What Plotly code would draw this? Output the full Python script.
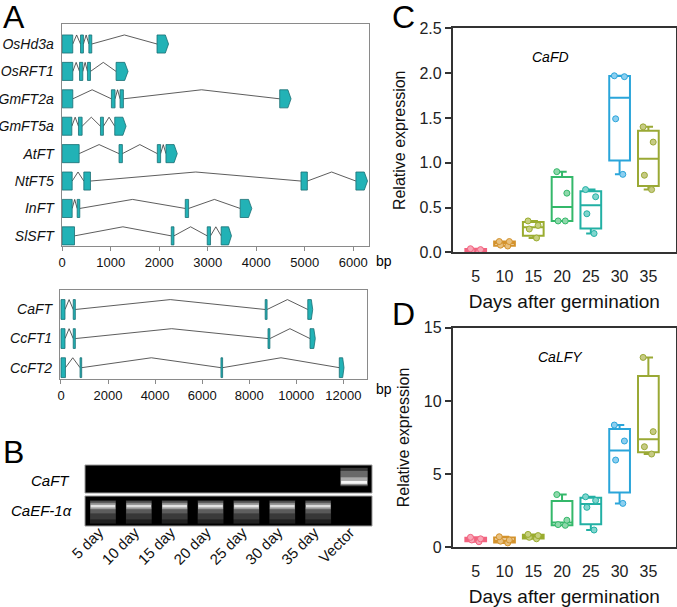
import plotly.graph_objects as go

W, H = 677, 607
FONT = "Arial, Liberation Sans, sans-serif"

# ---- panel A: gene structures (exon start/end in bp) ----
genes_top = ["OsHd3a", "OsRFT1", "GmFT2a", "GmFT5a", "AtFT", "NtFT5", "InFT", "SlSFT"]
exons_top = [
    [(0, 218), (378, 438), (550, 610), (1955, 2193)],
    [(0, 219), (357, 425), (521, 583), (1111, 1358)],
    [(0, 219), (1015, 1090), (1193, 1262), (4484, 4718)],
    [(0, 199), (336, 411), (789, 850), (1083, 1317)],
    [(0, 350), (1172, 1241), (1961, 2029), (2139, 2372)],
    [(0, 206), (446, 583), (4923, 5054), (6055, 6295)],
    [(0, 206), (309, 363), (2537, 2606), (3669, 3909)],
    [(0, 254), (2249, 2304), (2990, 3058), (3277, 3490)],
]
ticks_top = [0, 1000, 2000, 3000, 4000, 5000, 6000]

genes_bottom = ["CaFT", "CcFT1", "CcFT2"]
exons_bottom = [
    [(0, 170), (520, 610), (8680, 8760), (10490, 10700)],
    [(0, 170), (520, 610), (8800, 8880), (10585, 10810)],
    [(0, 190), (810, 880), (6800, 6870), (11830, 12030)],
]
ticks_bottom = [0, 2000, 4000, 6000, 8000, 10000, 12000]

# ---- panel B: gel lanes and band intensities ----
lanes = ["5 day", "10 day", "15 day", "20 day", "25 day", "30 day", "35 day", "Vector"]
caft_band = [0, 0, 0, 0, 0, 0, 0, 1.0]
ef1a_band = [0.95, 0.85, 0.95, 0.95, 1.0, 0.9, 0.85, 0]

# ---- panels C, D: relative expression ----
days = ["5", "10", "15", "20", "25", "30", "35"]
cafd = [
    [0.04, 0.03, 0.02, 0.01],
    [0.12, 0.12, 0.08, 0.07],
    [0.35, 0.30, 0.26, 0.16],
    [0.90, 0.66, 0.35, 0.35],
    [0.70, 0.62, 0.43, 0.21],
    [1.97, 1.96, 1.49, 0.87],
    [1.40, 1.23, 0.86, 0.70],
]
calfy = [
    [0.68, 0.58, 0.50, 0.38],
    [0.72, 0.50, 0.42, 0.30],
    [0.88, 0.80, 0.68, 0.58],
    [3.60, 1.85, 1.55, 1.50],
    [3.45, 3.20, 2.73, 1.18],
    [8.35, 7.26, 5.96, 3.00],
    [12.97, 7.90, 6.87, 6.37],
]
day_colors = ["#f2637f", "#d3922c", "#9aac2f", "#34b86a", "#22b0a4", "#2aa5da", "#9aa935"]
day_light = ["#f8a6b7", "#e8c07e", "#c6d07e", "#8fd8ab", "#80d6ce", "#8ccff0", "#c6ca84"]

EXON_FILL = "#22b2b6"
EXON_LINE = "#1b6f73"


def xdom(left, right):
    return [left / W, right / W]


def ydom(top, bottom):
    return [1 - bottom / H, 1 - top / H]


def quantile(vals, p):
    """percentile with (n+1)p positions, as GraphPad draws its boxes"""
    v = sorted(vals)
    pos = min(max(p * (len(v) + 1), 1), len(v))
    lo = int(pos)
    frac = pos - lo
    if lo >= len(v):
        return v[-1]
    return v[lo - 1] + frac * (v[lo] - v[lo - 1])


def gene_traces(exons_list, half, xa, ya):
    """exon polygons and intron lines for one gene panel"""
    ex_x, ex_y, in_x, in_y = [], [], [], []
    for row, exons in enumerate(exons_list, start=1):
        for k, (s, e) in enumerate(exons):
            if k == len(exons) - 1:
                sh = s + 0.72 * (e - s)
                ex_x += [s, sh, e, sh, s, s, None]
                ex_y += [row - half, row - half, row, row + half, row + half, row - half, None]
            else:
                ex_x += [s, e, e, s, s, None]
                ex_y += [row - half, row - half, row + half, row + half, row - half, None]
            if k > 0:
                ps = exons[k - 1][1]
                in_x += [ps, (ps + s) / 2, s, None]
                in_y += [row, row - half, row, None]
    return [
        go.Scatter(x=in_x, y=in_y, mode="lines", line=dict(color="#333333", width=0.8),
                   xaxis=xa, yaxis=ya, hoverinfo="skip", showlegend=False),
        go.Scatter(x=ex_x, y=ex_y, mode="lines", fill="toself", fillcolor=EXON_FILL,
                   line=dict(color=EXON_LINE, width=0.8),
                   xaxis=xa, yaxis=ya, hoverinfo="skip", showlegend=False),
    ]


fig = go.Figure()

for t in gene_traces(exons_top, 0.33, "x", "y"):
    fig.add_trace(t)
for t in gene_traces(exons_bottom, 0.34, "x2", "y2"):
    fig.add_trace(t)


# gel bands: layered bars from soft glow to bright line
def band_layers(intens, bases, heights, widths, shades, xa, ya):
    for (g, a), b, h, w in zip(shades, bases, heights, widths):
        cols = ["rgba(%d,%d,%d,%.2f)" % (g, g, g, a * v) for v in intens]
        fig.add_trace(go.Bar(x=lanes, y=[h if v > 0 else 0 for v in intens], base=b,
                             width=w, marker=dict(color=cols, line=dict(width=0)),
                             xaxis=xa, yaxis=ya, hoverinfo="skip", showlegend=False))


band_layers(caft_band, [0.24, 0.27, 0.30, 0.33], [0.66, 0.52, 0.26, 0.10],
            [0.76, 0.75, 0.74, 0.72],
            [(55, 1.0), (105, 1.0), (170, 1.0), (245, 1.0)], "x3", "y3")
band_layers(ef1a_band, [0.08, 0.22, 0.42, 0.56, 0.62], [0.78, 0.62, 0.40, 0.20, 0.08],
            [0.72, 0.71, 0.70, 0.70, 0.68],
            [(35, 1.0), (60, 1.0), (95, 1.0), (160, 1.0), (230, 1.0)], "x4", "y4")

# box plots: box from (n+1)p quartiles, whiskers min..max, points jittered on top
for panel, xa, ya in ((cafd, "x5", "y5"), (calfy, "x6", "y6")):
    for i, d in enumerate(days):
        vals = panel[i]
        fig.add_trace(go.Box(
            x=[d], q1=[quantile(vals, 0.25)], median=[quantile(vals, 0.5)],
            q3=[quantile(vals, 0.75)], lowerfence=[min(vals)], upperfence=[max(vals)],
            xaxis=xa, yaxis=ya, width=0.72, whiskerwidth=0.45,
            fillcolor="rgba(255,255,255,0)", line=dict(color=day_colors[i], width=2),
            showlegend=False, hoverinfo="skip"))
        fig.add_trace(go.Box(
            x=[d] * len(vals), y=vals, xaxis=xa, yaxis=ya,
            boxpoints="all", jitter=0.6, pointpos=0, width=0.72,
            fillcolor="rgba(255,255,255,0)", line=dict(color="rgba(0,0,0,0)", width=0),
            marker=dict(size=6, color=day_light[i], line=dict(color=day_colors[i], width=1)),
            showlegend=False, hoverinfo="skip"))

gene_font = dict(family=FONT, size=14, color="#111111", style="italic")
num_font = dict(family=FONT, size=13, color="#111111")
box_font = dict(family=FONT, size=16, color="#222222")

fig.update_layout(
    width=W, height=H, margin=dict(l=0, r=0, t=0, b=0),
    template="none", paper_bgcolor="white", plot_bgcolor="white",
    barmode="overlay", boxmode="overlay", showlegend=False, font=dict(family=FONT),
    # A upper
    xaxis=dict(domain=xdom(61.7, 369), range=[-10, 6325], tickvals=ticks_top,
               tickformat="d", showgrid=False, zeroline=False, showline=True, mirror=True,
               linecolor="#8a8a8a", linewidth=1.3, ticks="outside", ticklen=4,
               tickcolor="#8a8a8a", tickfont=num_font, automargin=False, anchor="y"),
    yaxis=dict(domain=ydom(24, 246), range=[8.37, 0.27], tickvals=list(range(1, 9)),
               ticktext=genes_top, showgrid=False, zeroline=False, showline=True,
               mirror=True, linecolor="#8a8a8a", linewidth=1.3, ticks="",
               tickfont=gene_font, ticklabelstandoff=4, automargin=False, anchor="x"),
    # A lower
    xaxis2=dict(domain=xdom(60, 366.7), range=[-42, 12995], tickvals=ticks_bottom,
                tickformat="d", showgrid=False, zeroline=False, showline=True, mirror=True,
                linecolor="#8a8a8a", linewidth=1.3, ticks="outside", ticklen=4,
                tickcolor="#8a8a8a", tickfont=num_font, automargin=False, anchor="y2"),
    yaxis2=dict(domain=ydom(290, 379), range=[3.39, 0.33], tickvals=[1, 2, 3],
                ticktext=genes_bottom, showgrid=False, zeroline=False, showline=True,
                mirror=True, linecolor="#8a8a8a", linewidth=1.3, ticks="",
                tickfont=gene_font, ticklabelstandoff=4, automargin=False, anchor="x2"),
    # B gel rows
    xaxis3=dict(domain=xdom(85, 372), range=[-0.5, 7.5], showticklabels=False,
                showgrid=False, zeroline=False, showline=False, ticks="",
                automargin=False, anchor="y3"),
    yaxis3=dict(domain=ydom(465, 493), range=[0, 1], showticklabels=False,
                showgrid=False, zeroline=False, showline=False, ticks="",
                automargin=False, anchor="x3"),
    xaxis4=dict(domain=xdom(85, 372), range=[-0.5, 7.5], tickangle=-45,
                tickfont=dict(family=FONT, size=15, color="#111111"),
                showgrid=False, zeroline=False, showline=False, ticks="",
                ticklabelstandoff=-6, ticklabelshift=-4, automargin=False, anchor="y4"),
    yaxis4=dict(domain=ydom(496, 526), range=[0, 1], showticklabels=False,
                showgrid=False, zeroline=False, showline=False, ticks="",
                automargin=False, anchor="x4"),
)

for xa, ya, top, bot, rng, dtick, fmt in (
        ("xaxis5", "yaxis5", 28.3, 252.3, [0, 2.5], 0.5, ".1f"),
        ("xaxis6", "yaxis6", 327.7, 547.3, [0, 15], 5, "d")):
    n = xa[-1]
    fig.layout[xa] = dict(
        domain=xdom(452.7, 676), range=[-0.8, 6.96], type="category",
        categoryorder="array", categoryarray=days, showgrid=False, zeroline=False,
        showline=True, mirror=True, linecolor="#333333", linewidth=1.7, ticks="",
        tickfont=box_font, ticklabelstandoff=9,
        title=dict(text="Days after germination", font=dict(family=FONT, size=19, color="#111111"),
                   standoff=10),
        automargin=False, anchor="y" + n)
    fig.layout[ya] = dict(
        domain=ydom(top, bot), range=rng, dtick=dtick, tickformat=fmt, showgrid=False,
        zeroline=False, showline=True, mirror=True, linecolor="#333333", linewidth=1.7,
        ticks="outside", ticklen=6, tickwidth=1.5, tickcolor="#333333", tickfont=box_font,
        title=dict(text="Relative expression", font=dict(family=FONT, size=16, color="#111111"),
                   standoff=10),
        automargin=False, anchor="x" + n)

# black gel backgrounds
for ax in ("x3", "x4"):
    yref = "y" + ax[1:]
    fig.add_shape(type="rect", xref=ax + " domain", yref=yref + " domain",
                  x0=0, x1=1, y0=0, y1=1, fillcolor="black",
                  line=dict(color="#9a9a9a", width=1), layer="below")


def note(text, x, y, size, italic=False, xanchor="center"):
    fig.add_annotation(text=text, x=x / W, y=1 - y / H, xref="paper", yref="paper",
                       showarrow=False, xanchor=xanchor, yanchor="middle",
                       font=dict(family=FONT, size=size, color="#000000",
                                 style="italic" if italic else "normal"))


note("A", 14, 17, 32)
note("B", 13, 452, 32)
note("C", 403, 17, 32)
note("D", 403, 314, 32)
note("bp", 384, 261, 14)
note("bp", 384, 389, 14)
note("CaFT", 72, 480, 15, italic=True, xanchor="right")
note("CaEF-1α", 74, 510, 15, italic=True, xanchor="right")
note("CaFD", 550, 57, 14, italic=True)
note("CaLFY", 560, 357, 14, italic=True)

fig.write_html("out.html", config={"displayModeBar": False},
               post_script="document.body.style.margin='0';document.body.style.padding='0';")
